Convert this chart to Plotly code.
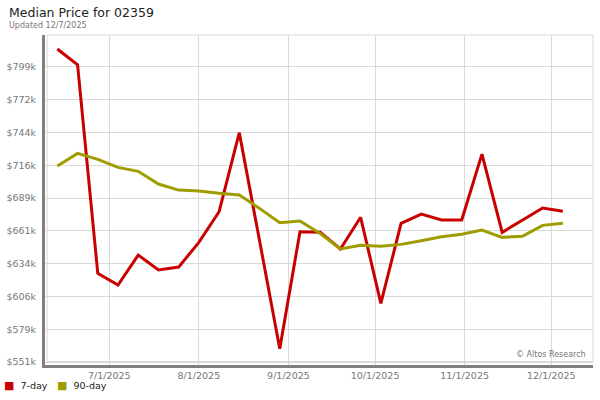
import plotly.graph_objects as go
import pandas as pd

# ---- data ----
dates = pd.date_range("2025-06-13", periods=26, freq="7D")
price_7day = [814.8, 801.6, 626.0, 616.2, 641.4, 628.8, 631.3, 652.1, 677.9, 744.4,
              653.6, 562.6, 661.0, 660.6, 646.5, 673.2, 600.8, 668.1, 675.9, 670.9,
              670.9, 726.4, 660.5, 670.9, 681.0, 678.2]
price_90day = [716.3, 727.0, 722.0, 715.2, 711.9, 701.2, 696.1, 695.3, 693.4, 691.9,
               680.7, 668.6, 670.1, 659.5, 646.5, 649.6, 648.8, 650.4, 653.5, 656.8,
               658.9, 662.5, 656.3, 657.2, 666.4, 668.1]
y_tickvals = [551.4 + 27.6 * k for k in range(10)]
y_ticktext = ["$551k", "$579k", "$606k", "$634k", "$661k", "$689k", "$716k", "$744k", "$772k", "$799k"]
x_tickvals = ["2025-07-01", "2025-08-01", "2025-09-01", "2025-10-01", "2025-11-01", "2025-12-01"]
x_ticktext = ["7/1/2025", "8/1/2025", "9/1/2025", "10/1/2025", "11/1/2025", "12/1/2025"]
series_names = ["7-day", "90-day"]

RED = "#c80000"
OLIVE = "#a09c00"
FONT = "DejaVu Sans"
colors = [RED, OLIVE]

fig = go.Figure()
fig.add_trace(go.Scatter(x=dates, y=price_7day, mode="lines",
                         line=dict(color=RED, width=3), name=series_names[0]))
fig.add_trace(go.Scatter(x=dates, y=price_90day, mode="lines",
                         line=dict(color=OLIVE, width=3), name=series_names[1]))

# legend drawn as text items (square glyph + name)
legend_x = [-0.0785, 0.0182]
legend_ann = [
    dict(text=f"<span style='color:{c};font-size:11px'>■</span>&nbsp;&nbsp;{nm}",
         xref="paper", yref="paper", x=lx, y=-0.0636, xanchor="left", yanchor="middle",
         showarrow=False, font=dict(family=FONT, size=9.5, color="#222222"))
    for nm, c, lx in zip(series_names, colors, legend_x)
]

fig.update_layout(
    width=600, height=400,
    margin=dict(l=45, r=7, t=35, b=35, autoexpand=False),
    paper_bgcolor="white", plot_bgcolor="white",
    font=dict(family=FONT, size=10, color="#777777"),
    showlegend=False,
    xaxis=dict(range=["2025-06-08 17:30", "2025-12-15 10:40"],
               tickvals=x_tickvals, ticktext=x_ticktext,
               showgrid=True, gridcolor="#d9d9d9", gridwidth=1,
               showline=True, linecolor="#808080", linewidth=3,
               zeroline=False, ticks="", automargin=False,
               tickfont=dict(size=9.5, color="#777777")),
    yaxis=dict(range=[548.9, 826.6], tickvals=y_tickvals, ticktext=y_ticktext,
               showgrid=True, gridcolor="#d9d9d9", gridwidth=1,
               showline=True, linecolor="#808080", linewidth=3,
               zeroline=False, ticks="outside", ticklen=4, tickcolor="white",
               automargin=False, tickfont=dict(size=9.5, color="#777777")),
    shapes=[dict(type="rect", xref="paper", yref="paper", x0=0.004, x1=1, y0=0.0106, y1=1,
                 line=dict(color="#d9d9d9", width=1), layer="below")],
    annotations=[
        dict(text="Median Price for 02359", xref="paper", yref="paper", x=-0.0693, y=1.0667,
             xanchor="left", yanchor="middle", showarrow=False,
             font=dict(family=FONT, size=12.5, color="#222222")),
        dict(text="Updated 12/7/2025", xref="paper", yref="paper", x=-0.0693, y=1.030,
             xanchor="left", yanchor="middle", showarrow=False,
             font=dict(family=FONT, size=8, color="#777777")),
        dict(text="© Altos Research", xref="paper", yref="paper", x=0.99, y=0.033,
             xanchor="right", yanchor="middle", showarrow=False,
             font=dict(family=FONT, size=8, color="#777777")),
    ] + legend_ann,
)

fig.write_html("out.html", config={"displayModeBar": False},
               post_script="document.body.style.margin='0';")
